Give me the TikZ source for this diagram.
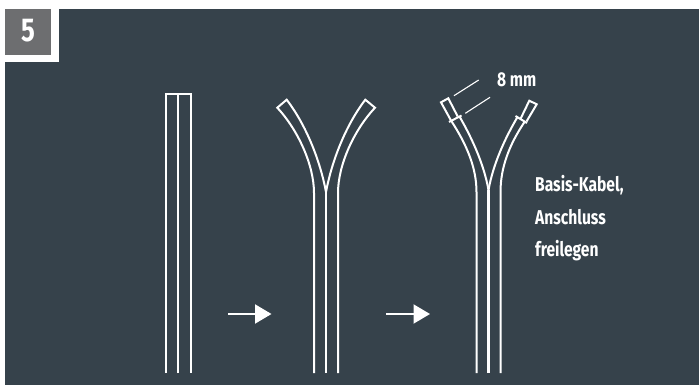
\documentclass[tikz,border=0pt]{standalone}
\usepackage{fontspec}
\setmainfont{Fira Sans}[FakeStretch=0.78]
\usetikzlibrary{arrows.meta}
\definecolor{panel}{HTML}{36424B}
\definecolor{badge}{HTML}{6D6E70}
\tikzset{
  wire/.style={draw=white,line width=2pt,line join=miter},
  core/.style={draw=white,line width=2.8pt},
  thin/.style={draw=white,line width=1.1pt},
  flow/.style={draw=white,line width=2pt,-{Triangle[length=16.5pt,width=19pt,fill=white]}},
  lbl/.style={text=white,anchor=base west,inner sep=0pt,font=\fontsize{20}{24}\selectfont\bfseries}
}
\begin{document}
\begin{tikzpicture}[x=1pt,y=-1pt]
\useasboundingbox (0,0) rectangle (699,385);
\fill[white] (0,0) rectangle (699,385);
\fill[panel] (5,9) rectangle (699,385);
\fill[white] (5,9) rectangle (58.5,62);
\fill[badge] (5,9) rectangle (51,55);
\node[anchor=base,text=white,inner sep=0pt,font=\fontsize{33}{36}\selectfont\bfseries] (n5) at (28.5,42) {5};
% cable 1
\draw[wire] (166,373) -- (166,94) -- (190.5,94) -- (190.5,373);
\draw[core] (178,373) -- (178,94);
% cable 2
\draw[wire] (314,373) -- (314,193) .. controls (314,165) and (298,130) .. (277.3,107.7)
  -- (286.7,99.7) .. controls (306,125) and (320,160) .. (326,192);
\draw[wire] (338,373) -- (338,193) .. controls (338,165) and (354,130) .. (375,107.7)
  -- (365.3,99.7) .. controls (346,125) and (332,160) .. (326,192);
\draw[core] (326,373) -- (326,192);
% cable 3
\draw[wire] (476.5,373) -- (476.5,192) .. controls (476.5,168) and (467,145) .. (451,120.5);
\draw[wire] (488.5,190) .. controls (484,165) and (473,140) .. (459.5,116.5);
\draw[wire] (500.5,373) -- (500.5,192) .. controls (500.5,168) and (509,145) .. (524.5,122);
\draw[wire] (488.5,190) .. controls (493,165) and (504,140) .. (517.5,117);
\draw[core] (488.5,373) -- (488.5,190);
\draw[wire] (449,122) -- (461.5,115.5);
\draw[wire] (515.5,116) -- (527,123);
\draw[wire] (451,120.5) -- (441,102.3) -- (448.3,98.3) -- (457.7,116.5);
\draw[wire] (520.7,118.5) -- (529.3,100.7) -- (536.7,104.3) -- (526.5,121.5);
% dimension
\coordinate (d1a) at (454,95.7); \coordinate (d1b) at (478.7,80);
\coordinate (d2a) at (465.3,113.3); \coordinate (d2b) at (490,97.3);
\draw[thin] (d1a) -- (d1b);
\draw[thin] (d2a) -- (d2b);
% arrows
\coordinate (a1) at (228,314); \coordinate (a2) at (271.5,314);
\coordinate (b1) at (386,314); \coordinate (b2) at (430,314);
\draw[flow] (a1) -- (a2);
\draw[flow] (b1) -- (b2);
% texts
\node[lbl] (dim) at (497,86.5) {8 mm};
\node[lbl] (t1) at (535,192) {Basis-Kabel,};
\node[lbl] (t2) at (535,224) {Anschluss};
\node[lbl] (t3) at (535,256) {freilegen};
\end{tikzpicture}
\end{document}
